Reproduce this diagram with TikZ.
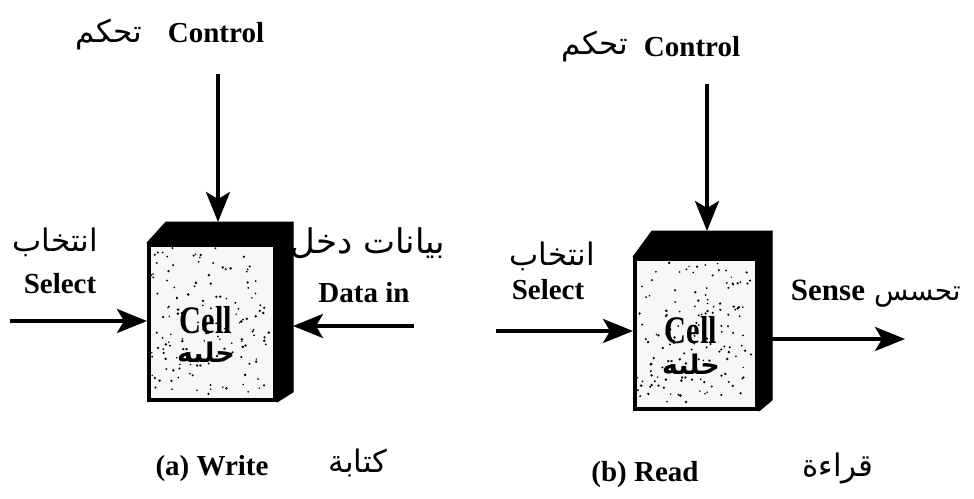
\documentclass[tikz,border=0pt]{standalone}
\usepackage{fontspec}
\setmainfont{Liberation Serif}
\newfontfamily\arabicfont[Script=Arabic]{DejaVu Sans}
\newfontfamily\condbf[FakeStretch=0.78]{Liberation Serif Bold}
\TeXXeTstate=1
\usetikzlibrary{arrows.meta}
\begin{document}
\begin{tikzpicture}[x=1pt,y=-1pt,
  lat/.style={font=\fontsize{29}{32}\selectfont\bfseries, inner sep=0pt},
  ara/.style={font=\fontsize{31}{36}\selectfont\arabicfont, inner sep=0pt},
  cellt/.style={font=\fontsize{39}{42}\selectfont\condbf, inner sep=0pt},
  cella/.style={font=\fontsize{27}{30}\selectfont\arabicfont\bfseries, inner sep=0pt},
  face/.style={draw=black, line width=4pt, fill=gray!6, inner sep=0pt},
  dark/.style={fill=black, draw=black, line width=1pt, line join=round},
  arr/.style={line width=3.6pt, -{Stealth[length=30pt,width=24pt,inset=7pt]}}
]
\useasboundingbox (0,0) rectangle (974,498);
\pgfmathsetseed{7}

% ---------- box (a)
\node[face, minimum width=126pt, minimum height=155pt, anchor=north west] (fa) at (147,243) {};
\coordinate (ta) at (166,222);
\coordinate (tra) at (293,222);
\coordinate (bra) at (293,392);
\fill[dark] (fa.north west) -- (ta) -- (tra) -- (fa.north east) -- cycle;
\fill[dark] (fa.north east) -- (tra) -- (bra) -- (fa.south east) -- cycle;
\foreach \i in {1,...,140} {\fill (151+rnd*118, 247+rnd*147) circle (0.8+rnd*0.6);}
\node[cellt] (cellta) at (206,320) {Cell};
\node[cella] (cellaa) at (206,354) {\beginR خلية\endR};

% ---------- box (b)
\node[face, minimum width=122pt, minimum height=150pt, anchor=north west] (fb) at (633,257) {};
\coordinate (tb) at (652,231);
\coordinate (trb) at (772,231);
\coordinate (brb) at (772,400);
\fill[dark] (fb.north west) -- (tb) -- (trb) -- (fb.north east) -- cycle;
\fill[dark] (fb.north east) -- (trb) -- (brb) -- (fb.south east) -- cycle;
\foreach \i in {1,...,140} {\fill (637+rnd*114, 261+rnd*142) circle (0.8+rnd*0.6);}
\node[cellt] (celltb) at (691,330) {Cell};
\node[cella] (cellba) at (691,366) {\beginR خلية\endR};

% ---------- control (a)
\node[lat, anchor=base] (ctrla) at (216,42) {Control};
\node[ara, anchor=base east] (ctrlaar) at (142,42) {\beginR تحكم\endR};
\coordinate (ca0) at (218,74);
\draw[arr] (ca0) -- (ca0 |- ta);

% ---------- select (a)
\node[ara] (selaar) at (55,242) {\beginR انتخاب\endR};
\node[lat] (sela) at (60,284) {Select};
\coordinate (sa0) at (10,321);
\draw[arr] (sa0) -- (sa0 -| fa.west);

% ---------- data in (a)
\node[ara, font=\fontsize{34}{38}\selectfont\arabicfont] (dataar) at (368,243) {\beginR بيانات دخل\endR};
\node[lat] (datain) at (364,293) {Data in};
\coordinate (da0) at (414,326);
\draw[arr] (da0) -- (da0 -| tra);

% ---------- control (b)
\node[lat, anchor=base] (ctrlb) at (692,56) {Control};
\node[ara, anchor=base east] (ctrlbar) at (628,54) {\beginR تحكم\endR};
\coordinate (cb0) at (707,84);
\draw[arr] (cb0) -- (cb0 |- tb);

% ---------- select (b)
\node[ara] (selbar) at (552,256) {\beginR انتخاب\endR};
\node[lat] (selb) at (548,290) {Select};
\coordinate (sb0) at (496,331);
\draw[arr] (sb0) -- (sb0 -| fb.west);

% ---------- sense (b)
\node[lat, font=\fontsize{31}{35}\selectfont\bfseries, anchor=base] (sense) at (828,300) {Sense};
\node[ara, font=\fontsize{28}{32}\selectfont\arabicfont, anchor=base west] (sensear) at (874,300) {\beginR تحسس\endR};
\coordinate (se0) at (772,339);
\coordinate (se1) at (905,339);
\draw[arr] (se0) -- (se1);

% ---------- captions
\node[lat, anchor=base] (capa) at (212,475) {(a) Write};
\node[ara, anchor=base] (capaar) at (358,472) {\beginR كتابة\endR};
\node[lat, anchor=base] (capb) at (645,481) {(b) Read};
\node[ara, anchor=base] (capbar) at (838,476) {\beginR قراءة\endR};
\end{tikzpicture}
\end{document}
